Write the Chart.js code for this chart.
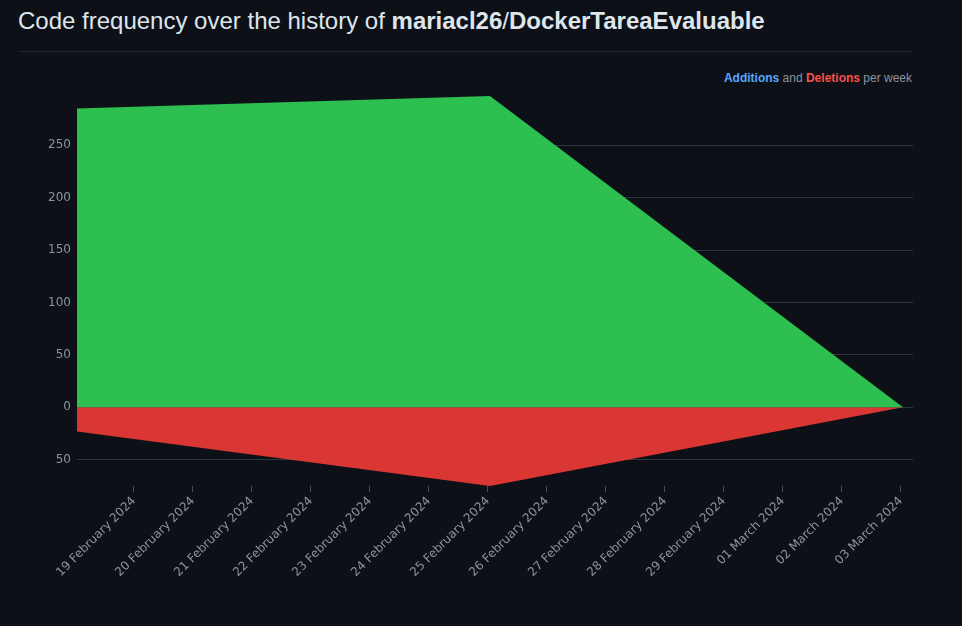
<!DOCTYPE html>
<html>
<head>
<meta charset="utf-8">
<script src="https://cdn.jsdelivr.net/npm/chart.js@4.4.1/dist/chart.umd.min.js"></script>
<style>
  html, body { margin: 0; padding: 0; background: #0d1117; width: 962px; height: 626px; overflow: hidden; }
  #title { position: absolute; left: 18px; top: 4px; font-family: "Liberation Sans", Arial, sans-serif; font-size: 24px; color: #dfe5ec; white-space: nowrap; line-height: 34px; }
  #title b { font-weight: bold; }
  #rule { position: absolute; left: 18px; top: 51px; width: 895px; height: 1px; background: #21262d; }
  #legend { position: absolute; right: 50px; top: 71px; font-family: "Liberation Sans", Arial, sans-serif; font-size: 12px; color: #8b949e; white-space: nowrap; }
  #legend .a { color: #58a6ff; font-weight: bold; }
  #legend .d { color: #f85149; font-weight: bold; }
  #wrap { position: absolute; left: 0; top: 0; width: 962px; height: 626px; }
</style>
</head>
<body>
<div id="title">Code frequency over the history of <b>mariacl26</b>/<b>DockerTareaEvaluable</b></div>
<div id="rule"></div>
<div id="legend"><span class="a">Additions</span> and <span class="d">Deletions</span> per week</div>
<div id="wrap"><canvas id="c" width="962" height="626"></canvas></div>
<script>
// Weeks (days after 18 February 2024)
const weekDays = [0, 7, 14];
const weekLabels = ['18 February 2024', '25 February 2024', '03 March 2024'];
const additions = [285, 297, 0];
const deletions = [-23, -75, 0];

// X-axis tick labels (days after 18 February 2024)
const tickDays = [1, 2, 3, 4, 5, 6, 7, 8, 9, 10, 11, 12, 13, 14];
const tickLabels = ['19 February 2024', '20 February 2024', '21 February 2024', '22 February 2024',
  '23 February 2024', '24 February 2024', '25 February 2024', '26 February 2024', '27 February 2024',
  '28 February 2024', '29 February 2024', '01 March 2024', '02 March 2024', '03 March 2024'];
const yTicks = [-50, 0, 50, 100, 150, 200, 250];

const tickShift = -0.034; // local midnight vs. week start
const font = { family: 'DejaVu Sans', size: 12 };

new Chart(document.getElementById('c'), {
  type: 'line',
  data: {
    datasets: [
      { label: 'Additions', data: weekDays.map((d, i) => ({ x: d, y: additions[i] })),
        backgroundColor: '#2dbf4f', borderWidth: 0, pointRadius: 0, fill: 'origin', tension: 0 },
      { label: 'Deletions', data: weekDays.map((d, i) => ({ x: d, y: deletions[i] })),
        backgroundColor: '#da3633', borderWidth: 0, pointRadius: 0, fill: 'origin', tension: 0 }
    ]
  },
  options: {
    responsive: false,
    animation: false,
    layout: { padding: { left: 0, top: 96, right: 49, bottom: 0 } },
    plugins: { legend: { display: false }, tooltip: { enabled: false } },
    scales: {
      x: {
        type: 'linear',
        min: 0,
        max: 14.17,
        afterBuildTicks: s => { s.ticks = tickDays.map(v => ({ value: v + tickShift })); },
        afterFit: s => { s.height = 140; },
        grid: { display: true, drawOnChartArea: false, drawTicks: true, tickLength: 6, color: '#484f58' },
        border: { display: false },
        ticks: {
          autoSkip: false, minRotation: 45, maxRotation: 45, color: '#8b949e', font: font, padding: 2,
          callback: (v) => { const i = tickDays.indexOf(Math.round(v - tickShift)); return i >= 0 ? tickLabels[i] : ''; }
        }
      },
      y: {
        type: 'linear',
        min: -75,
        max: 297,
        afterBuildTicks: s => { s.ticks = yTicks.map(v => ({ value: v })); },
        afterFit: s => { s.width = 77; },
        grid: { color: '#30363d', drawTicks: false },
        border: { display: false },
        ticks: { color: '#8b949e', font: font, padding: 6, callback: v => String(Math.abs(v)) }
      }
    }
  }
});
</script>
</body>
</html>
